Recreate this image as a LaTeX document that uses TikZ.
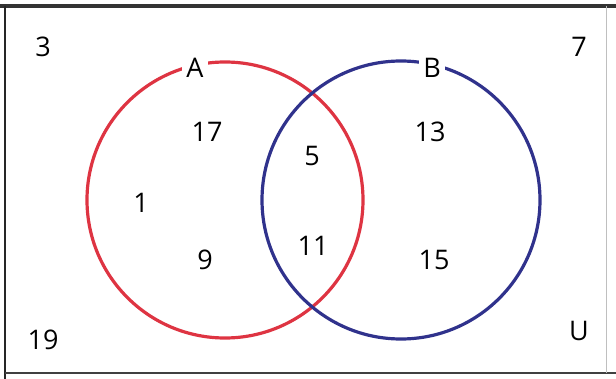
\documentclass[tikz,border=0pt]{standalone}
\usepackage{fontspec}
\setmainfont{Open Sans}
\definecolor{setred}{RGB}{222,52,66}
\definecolor{setblue}{RGB}{48,50,140}
\begin{document}
\begin{tikzpicture}[x=1pt, y=-1pt]
        \tikzstyle{num}=[font=\fontsize{27}{27}\selectfont, inner sep=1pt]
        \tikzstyle{setname}=[num, fill=white, inner sep=4pt]
        \tikzstyle{ring}=[line width=3.2pt]
        \useasboundingbox (0,0) rectangle (616,379);
        % universe
        \draw[black!80, line width=3.2pt] (0,6) -- (616,6);
        \draw[black!85, line width=2.4pt] (5,6) -- (5,379);
        \draw[black!75, line width=2pt] (5,373) -- (616,373);
        \draw[black!25, line width=0.8pt] (606,6) -- (606,373);
        % sets
        \draw[ring, setred] (225,200) circle (138);
        \draw[ring, setblue] (401,200) circle (139);
        \node[setname] (lblA) at (195,68) {A};
        \node[setname] (lblB) at (432,68) {B};
        % elements
        \node[num] (n3) at (43,47) {3};
        \node[num] (n7) at (579,47) {7};
        \node[num] (n19) at (43,340) {19};
        \node[num] (lblU) at (579,331) {U};
        \node[num] (n17) at (207,132) {17};
        \node[num] (n1) at (141,203) {1};
        \node[num] (n9) at (205,260) {9};
        \node[num] (n5) at (312,156) {5};
        \node[num] (n11) at (313,246) {11};
        \node[num] (n13) at (430,132) {13};
        \node[num] (n15) at (434,260) {15};
\end{tikzpicture}
\end{document}
